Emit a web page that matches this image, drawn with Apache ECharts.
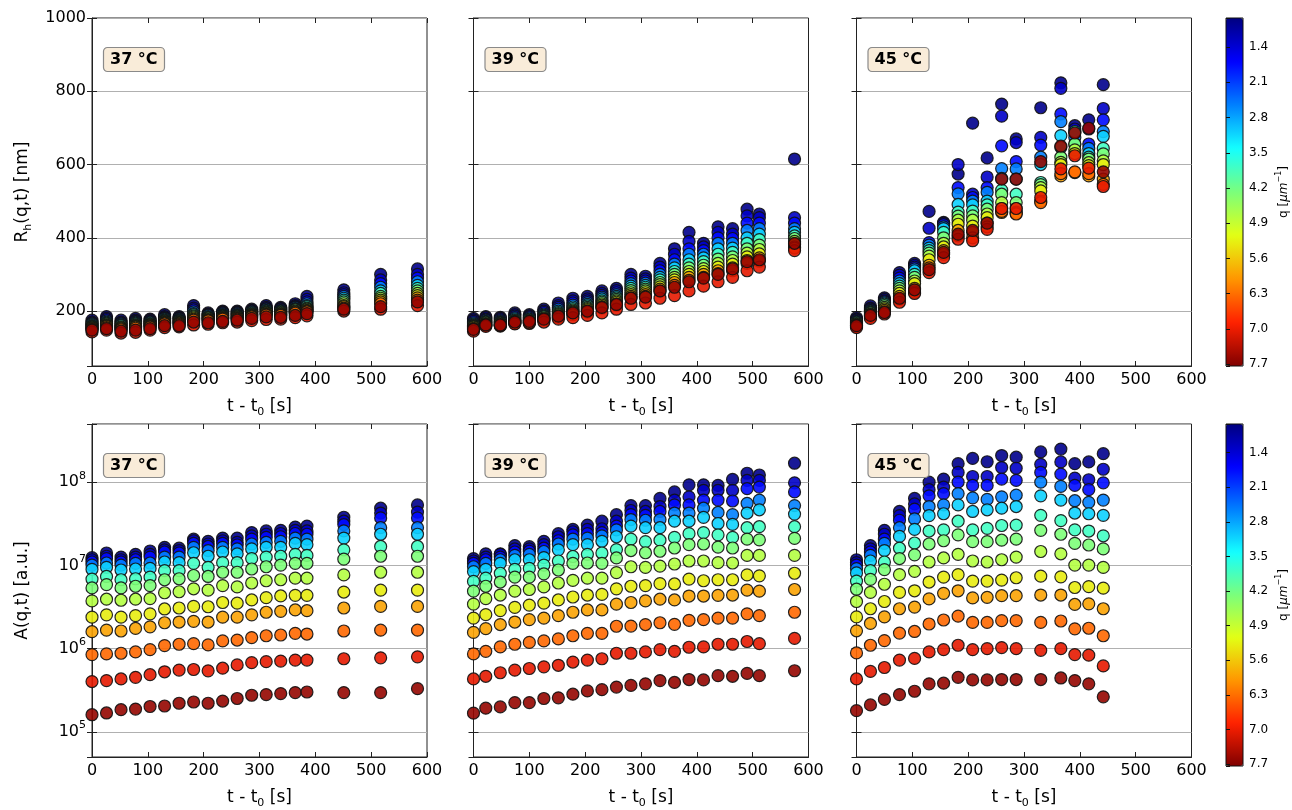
<!DOCTYPE html>
<html><head><meta charset="utf-8">
<script src="https://cdn.jsdelivr.net/npm/echarts@6/dist/echarts.min.js"></script>
<style>html,body{margin:0;padding:0;background:#fff}#c{width:1292px;height:810px}</style>
</head><body><div id="c"></div>
<script>
// ---------------- data ----------------
const qValues = [0.9, 1.3, 1.75, 2.55, 3.1, 3.8, 4.3, 4.75, 5.3, 5.9, 6.35, 7.05, 7.6];
const qTickLabels = [1.4, 2.1, 2.8, 3.5, 4.2, 4.9, 5.6, 6.3, 7.0, 7.7];
const qMin = 0.82, qMax = 7.74;
const tempLabels = ['37 °C', '39 °C', '45 °C'];
const xTicks = [0, 100, 200, 300, 400, 500, 600];

const t37 = [0,26,52,78,104,130,156,182,208,234,260,286,312,338,364,385,451,517,583];
const t39 = [0,22,48,74,100,126,152,178,204,230,256,282,308,334,360,386,412,438,464,490,512,575];
const t45 = [0,25,50,77,104,130,156,182,208,234,260,286,330,366,391,416,442];

// R_h(q,t) [nm], one row per q (q1 ... q13)
const rh37 = [
 [175,185,175,180,178,190,185,215,195,200,200,205,215,210,220,240,258,300,315],
 [170,180,170,175,175,185,182,208,192,197,197,202,210,207,215,232,250,285,300],
 [167,177,167,172,172,182,180,203,190,195,195,200,207,205,212,225,245,275,290],
 [165,173,165,170,170,180,178,198,188,193,193,198,205,202,210,220,240,265,280],
 [163,170,162,167,168,178,175,193,185,190,190,196,202,200,207,215,235,255,270],
 [160,167,160,165,166,175,173,190,183,188,188,194,200,198,205,212,230,248,262],
 [158,165,157,162,164,173,171,187,181,186,186,192,197,196,203,208,225,240,255],
 [156,162,155,160,162,171,169,184,179,184,184,190,195,194,200,205,220,235,248],
 [154,160,153,158,160,169,167,181,177,182,182,188,193,192,198,202,215,230,242],
 [152,158,151,156,158,167,165,178,175,180,180,186,191,190,196,200,212,225,236],
 [150,155,149,153,156,165,163,175,173,178,178,184,189,188,194,198,208,220,230],
 [143,148,140,142,148,155,157,162,164,168,170,174,177,178,182,187,200,205,215],
 [148,152,145,148,152,160,160,170,168,172,175,180,184,183,188,193,205,212,225]
];
const rh39 = [
 [180,185,183,195,190,205,222,235,240,255,262,300,295,330,370,415,385,430,425,478,465,615],
 [176,182,180,190,187,200,215,228,233,248,256,290,288,320,355,390,375,415,410,460,455,455],
 [172,178,177,186,184,196,210,222,228,243,250,282,282,310,340,370,365,400,398,440,440,440],
 [168,175,174,182,181,192,205,216,223,238,245,275,276,300,328,355,355,385,385,420,425,425],
 [165,172,171,179,178,189,200,211,218,233,240,268,270,292,318,340,345,370,372,400,410,415],
 [162,170,169,176,176,186,196,207,214,228,236,262,265,285,308,328,335,355,360,385,395,405],
 [160,168,167,174,174,184,193,203,210,224,232,256,260,278,300,318,325,342,348,370,380,398],
 [158,166,165,172,172,181,190,200,207,220,228,250,255,272,292,308,316,330,338,358,368,390],
 [156,164,163,170,170,179,187,197,204,216,224,245,250,266,285,300,308,320,328,348,356,382],
 [153,162,161,168,168,177,184,193,200,212,220,240,245,260,278,292,300,310,318,338,345,375],
 [151,160,159,166,166,175,182,190,197,208,216,236,240,254,270,284,292,302,310,330,336,372],
 [145,158,160,165,168,170,178,182,188,195,205,218,222,235,242,255,268,280,292,310,320,365],
 [150,162,162,170,172,178,186,195,200,210,218,235,238,255,265,280,290,300,315,335,340,385]
];
const rh45 = [
 [182,214,236,305,330,472,442,574,713,618,765,670,755,823,706,722,818],
 [178,208,232,298,325,426,440,600,519,566,732,660,674,808,697,697,753],
 [175,205,228,290,320,387,436,537,510,537,651,608,653,738,688,656,722],
 [172,202,225,282,315,380,430,520,500,524,589,588,620,717,674,644,690],
 [170,200,222,275,310,372,425,491,490,500,562,560,600,679,656,630,677],
 [168,197,219,268,300,365,415,470,473,490,530,519,551,647,690,620,644],
 [166,195,215,262,292,358,400,459,460,478,519,496,545,620,656,615,629],
 [164,192,210,255,282,350,385,448,448,465,496,480,537,606,640,605,610],
 [162,190,206,248,275,340,375,437,432,455,480,470,528,600,630,597,600],
 [160,186,202,240,262,325,365,420,415,440,469,467,500,569,578,569,560],
 [158,184,198,232,252,318,355,405,400,430,472,465,496,575,580,575,546],
 [155,180,192,224,248,305,346,396,392,423,480,480,510,588,624,590,540],
 [160,188,196,235,258,313,360,410,420,440,560,560,608,650,686,699,580]
];

// A(q,t) [a.u.], one row per q (q1 ... q13)
const a37 = [
 [1.24e7,1.41e7,1.26e7,1.36e7,1.49e7,1.65e7,1.61e7,2.07e7,1.95e7,2.13e7,2.13e7,2.48e7,2.6e7,2.64e7,2.89e7,2.97e7,3.79e7,4.87e7,5.33e7],
 [1.17e7,1.29e7,1.17e7,1.26e7,1.36e7,1.54e7,1.51e7,1.98e7,1.81e7,1.98e7,1.89e7,2.27e7,2.37e7,2.42e7,2.64e7,2.6e7,3.4e7,4.26e7,4.37e7],
 [1.1e7,1.21e7,1.1e7,1.17e7,1.26e7,1.45e7,1.41e7,1.84e7,1.69e7,1.84e7,1.76e7,2.07e7,2.17e7,2.21e7,2.42e7,2.37e7,3.1e7,3.72e7,3.72e7],
 [1.01e7,1.07e7,1.01e7,1.06e7,1.07e7,1.26e7,1.26e7,1.65e7,1.51e7,1.65e7,1.58e7,1.81e7,1.89e7,1.95e7,2.13e7,2.07e7,2.6e7,2.84e7,2.84e7],
 [8.98e6,9.48e6,8.82e6,9.06e6,9.22e6,1.1e7,1.08e7,1.42e7,1.29e7,1.45e7,1.38e7,1.58e7,1.65e7,1.65e7,1.84e7,1.78e7,2.13e7,2.37e7,2.37e7],
 [6.85e6,7.37e6,6.73e6,6.92e6,7.23e6,8.66e6,8.66e6,1.06e7,9.48e6,1.08e7,1.08e7,1.21e7,1.26e7,1.29e7,1.36e7,1.32e7,1.54e7,1.69e7,1.69e7],
 [5.37e6,5.89e6,5.37e6,5.62e6,5.73e6,6.73e6,6.92e6,7.57e6,7.37e6,8.28e6,8.28e6,9.06e6,9.64e6,1.01e7,1.06e7,1.06e7,1.19e7,1.29e7,1.29e7],
 [3.75e6,3.93e6,3.82e6,3.93e6,4.0e6,4.7e6,4.83e6,5.24e6,5.05e6,5.73e6,5.52e6,6.15e6,6.55e6,6.73e6,7.05e6,7.05e6,7.7e6,8.28e6,8.28e6],
 [2.39e6,2.55e6,2.39e6,2.5e6,2.62e6,3.0e6,3.08e6,3.22e6,3.19e6,3.59e6,3.52e6,3.85e6,4.1e6,4.3e6,4.37e6,4.37e6,4.79e6,5.05e6,5.05e6],
 [1.6e6,1.67e6,1.63e6,1.75e6,1.83e6,2.05e6,2.09e6,2.13e6,2.09e6,2.39e6,2.39e6,2.55e6,2.74e6,2.81e6,2.92e6,2.86e6,3.08e6,3.22e6,3.22e6],
 [8.5e5,8.66e5,8.82e5,9.14e5,9.73e5,1.09e6,1.13e6,1.15e6,1.11e6,1.24e6,1.27e6,1.36e6,1.43e6,1.46e6,1.53e6,1.5e6,1.63e6,1.67e6,1.67e6],
 [4.03e5,4.14e5,4.33e5,4.53e5,4.87e5,5.28e5,5.53e5,5.62e5,5.42e5,5.83e5,6.38e5,6.8e5,6.98e5,7.1e5,7.3e5,7.3e5,7.57e5,7.77e5,7.98e5],
 [1.61e5,1.69e5,1.85e5,1.88e5,2.02e5,2.05e5,2.21e5,2.29e5,2.21e5,2.35e5,2.52e5,2.76e5,2.81e5,2.89e5,2.97e5,3.02e5,2.97e5,2.97e5,3.31e5]
];
const a39 = [
 [1.21e7,1.38e7,1.38e7,1.73e7,1.68e7,1.95e7,2.41e7,2.71e7,3.05e7,3.4e7,4.07e7,5.23e7,5.23e7,6.38e7,7.64e7,9.3e7,9.3e7,9.14e7,1.08e8,1.28e8,1.22e8,1.69e8],
 [1.13e7,1.26e7,1.36e7,1.58e7,1.58e7,1.78e7,2.21e7,2.54e7,2.71e7,2.76e7,3.4e7,4.57e7,4.45e7,5.1e7,6.1e7,6.67e7,7.99e7,7.99e7,7.99e7,1.05e8,1.05e8,9.82e7],
 [1.06e7,1.17e7,1.26e7,1.45e7,1.48e7,1.61e7,1.98e7,2.33e7,2.41e7,2.48e7,2.97e7,4.07e7,4.0e7,4.45e7,5.33e7,5.33e7,6.1e7,6.1e7,5.94e7,8.36e7,8.74e7,7.64e7],
 [9.65e6,1.06e7,1.17e7,1.32e7,1.36e7,1.47e7,1.81e7,2.07e7,2.13e7,2.27e7,2.67e7,3.56e7,3.49e7,3.56e7,4.26e7,4.26e7,4.87e7,4.33e7,4.07e7,5.57e7,6.1e7,5.23e7],
 [8.43e6,8.98e6,1.06e7,1.17e7,1.17e7,1.24e7,1.54e7,1.78e7,1.78e7,1.95e7,2.21e7,2.97e7,2.84e7,2.84e7,3.4e7,3.4e7,3.78e7,3.19e7,3.11e7,4.26e7,4.66e7,4.14e7],
 [6.43e6,7.04e6,8.06e6,8.98e6,9.22e6,1.01e7,1.13e7,1.28e7,1.36e7,1.41e7,1.55e7,2.07e7,1.93e7,2.01e7,2.17e7,2.41e7,2.48e7,2.33e7,2.17e7,2.84e7,2.92e7,2.92e7],
 [4.91e6,5.62e6,6.32e6,7.23e6,7.23e6,7.92e6,8.82e6,1.06e7,1.07e7,1.06e7,1.23e7,1.51e7,1.42e7,1.48e7,1.62e7,1.78e7,1.81e7,1.66e7,1.62e7,2.07e7,2.03e7,2.11e7],
 [3.43e6,4.0e6,4.41e6,4.91e6,5.14e6,5.52e6,6.15e6,6.61e6,7.04e6,7.04e6,8.21e6,9.65e6,9.47e6,9.82e6,1.04e7,1.13e7,1.13e7,1.08e7,1.07e7,1.32e7,1.32e7,1.32e7],
 [2.33e6,2.57e6,2.87e6,3.13e6,3.34e6,3.52e6,3.85e6,4.18e6,4.41e6,4.49e6,5.23e6,5.62e6,5.73e6,6.05e6,5.99e6,6.85e6,6.55e6,6.73e6,6.73e6,7.7e6,7.5e6,8.06e6],
 [1.57e6,1.74e6,1.95e6,2.09e6,2.23e6,2.33e6,2.5e6,2.74e6,2.92e6,2.92e6,3.43e6,3.59e6,3.75e6,3.93e6,3.85e6,4.29e6,4.29e6,4.37e6,4.41e6,5.05e6,4.91e6,5.14e6],
 [8.66e5,9.3e5,1.05e6,1.13e6,1.19e6,1.24e6,1.31e6,1.43e6,1.53e6,1.53e6,1.86e6,1.87e6,1.95e6,2.05e6,1.96e6,2.19e6,2.23e6,2.33e6,2.33e6,2.62e6,2.5e6,2.74e6],
 [4.33e5,4.66e5,5.14e5,5.52e5,5.78e5,6.05e5,6.32e5,6.91e5,7.3e5,7.57e5,8.82e5,8.82e5,9.14e5,9.73e5,9.3e5,1.04e6,1.05e6,1.13e6,1.13e6,1.22e6,1.15e6,1.33e6],
 [1.68e5,1.93e5,2.0e5,2.25e5,2.25e5,2.52e5,2.57e5,2.84e5,3.11e5,3.22e5,3.46e5,3.62e5,3.78e5,4.14e5,3.93e5,4.26e5,4.22e5,4.74e5,4.66e5,5.05e5,4.74e5,5.43e5]
];
const a45 = [
 [1.17e7,1.73e7,2.64e7,4.45e7,6.38e7,1.0e8,1.09e8,1.67e8,1.93e8,1.76e8,2.09e8,2.0e8,2.31e8,2.5e8,1.67e8,1.75e8,2.2e8],
 [1.08e7,1.58e7,2.37e7,3.96e7,5.48e7,8.13e7,8.74e7,1.31e8,1.17e8,1.17e8,1.5e8,1.47e8,1.64e8,1.75e8,1.12e8,1.07e8,1.43e8],
 [1.01e7,1.45e7,2.07e7,3.49e7,4.74e7,6.85e7,7.3e7,1.0e8,9.14e7,9.14e7,1.09e8,1.05e8,1.31e8,1.25e8,9.14e7,8.13e7,9.82e7],
 [9.14e6,1.32e7,1.84e7,2.84e7,3.62e7,5.1e7,5.33e7,7.3e7,6.49e7,6.21e7,6.67e7,6.98e7,1.0e8,8.9e7,5.99e7,5.73e7,6.1e7],
 [8.13e6,1.13e7,1.51e7,2.23e7,2.71e7,3.96e7,4.18e7,5.33e7,4.45e7,4.66e7,4.87e7,5.1e7,6.85e7,6.1e7,4.26e7,4.18e7,4.0e7],
 [6.49e6,8.66e6,1.1e7,1.61e7,1.86e7,2.59e7,2.67e7,3.4e7,2.67e7,2.79e7,3.02e7,3.05e7,4.0e7,3.46e7,2.67e7,2.59e7,2.27e7],
 [5.18e6,6.79e6,8.9e6,1.21e7,1.34e7,1.81e7,1.98e7,2.33e7,1.93e7,1.93e7,2.01e7,2.07e7,2.64e7,2.37e7,1.84e7,1.76e7,1.58e7],
 [3.69e6,4.74e6,5.94e6,7.77e6,8.5e6,1.1e7,1.23e7,1.36e7,1.13e7,1.1e7,1.17e7,1.26e7,1.47e7,1.38e7,1.01e7,1.01e7,9.47e6],
 [2.41e6,3.02e6,3.69e6,4.74e6,4.96e6,6.32e6,7.23e6,7.77e6,6.49e6,6.49e6,6.67e6,7.11e6,7.43e6,7.3e6,5.43e6,5.57e6,5.33e6],
 [1.64e6,2.01e6,2.41e6,3.02e6,3.16e6,3.96e6,4.62e6,4.96e6,4.07e6,4.14e6,4.33e6,4.33e6,4.41e6,4.41e6,3.4e6,3.46e6,3.02e6],
 [8.9e5,1.1e6,1.25e6,1.54e6,1.61e6,1.98e6,2.21e6,2.46e6,2.07e6,2.07e6,2.17e6,2.17e6,2.07e6,2.15e6,1.73e6,1.76e6,1.43e6],
 [4.33e5,5.33e5,5.94e5,7.3e5,7.64e5,9.14e5,9.73e5,1.1e6,9.73e5,1.0e6,1.03e6,1.0e6,9.56e5,1.0e6,8.5e5,8.36e5,6.21e5],
 [1.8e5,2.11e5,2.46e5,2.81e5,3.08e5,3.78e5,3.85e5,4.53e5,4.22e5,4.22e5,4.26e5,4.26e5,4.26e5,4.45e5,4.14e5,3.78e5,2.64e5]
];

// ---------------- chart ----------------
const FONT = 'DejaVu Sans';
const jet = ['#000080','#0000ff','#0080ff','#14ffff','#7bff7b','#e3ff14','#ff9600','#ff2100','#800000'];
const gridLeft = [92, 473.5, 856.5];
const W = 335;
const rowsGeom = [{top:18, height:348}, {top:424, height:341}];
const panels = [
  {row:0, col:0, t:t37, vals:rh37}, {row:0, col:1, t:t39, vals:rh39}, {row:0, col:2, t:t45, vals:rh45},
  {row:1, col:0, t:t37, vals:a37}, {row:1, col:1, t:t39, vals:a39}, {row:1, col:2, t:t45, vals:a45}
];
const grids = [], xAxes = [], yAxes = [], series = [], titles = [];
const topIdx = [], botIdx = [];
const txt = '#000';
const richX = {
  n: {fontFamily: FONT, fontSize: 17, color: txt, lineHeight: 22},
  s: {fontFamily: FONT, fontSize: 11, color: txt, lineHeight: 12, verticalAlign: 'bottom'}
};
panels.forEach((p, g) => {
  const geo = rowsGeom[p.row];
  grids.push({left: gridLeft[p.col], top: geo.top, width: W, height: geo.height,
    show: true, borderColor: '#222', borderWidth: 1, backgroundColor: 'transparent'});
  xAxes.push({gridIndex: g, type: 'value', min: 0, max: 600, interval: 100, position: 'bottom',
    name: '{n|t - t}{s|0}{n| [s]}', nameLocation: 'middle', nameGap: 30,
    nameTextStyle: {rich: richX},
    axisLine: {show: true, lineStyle: {color: '#222', width: 1}},
    axisTick: {show: true, inside: true, length: 5, lineStyle: {color: '#222'}},
    axisLabel: {fontFamily: FONT, fontSize: 16, color: txt, margin: 6,
      formatter: v => xTicks.includes(v) ? String(v) : ''},
    splitLine: {show: false}});
  xAxes.push({gridIndex: g, type: 'value', min: 0, max: 600, interval: 100, position: 'top',
    axisLine: {show: false}, axisTick: {show: true, inside: true, length: 5, lineStyle: {color: '#222'}},
    axisLabel: {show: false}, splitLine: {show: false}});
  const isLog = p.row === 1;
  const yBase = isLog ? {type: 'log', logBase: 10, min: 5e4, max: 5e8} : {type: 'value', min: 50, max: 1000};
  const yName = p.col !== 0 ? '' : (isLog ? '{n|A(q,t) [a.u.]}' : '{n|R}{s|h}{n|(q,t) [nm]}');
  yAxes.push(Object.assign({gridIndex: g, position: 'left',
    name: yName, nameLocation: 'middle', nameGap: 58,
    nameTextStyle: {rich: richX},
    axisLine: {show: true, lineStyle: {color: '#222', width: 1}},
    axisTick: {show: true, inside: true, length: 5, lineStyle: {color: '#222'}},
    axisLabel: {show: p.col === 0, fontFamily: FONT, fontSize: 16, color: txt, margin: 6,
      formatter: isLog ? (v => {
        const e = Math.log10(v);
        return Math.abs(e - Math.round(e)) < 1e-6 ? '{b|10}{s|' + Math.round(e) + '}' : '';
      }) : (v => (v % 200 === 0 ? String(v) : '')),
      rich: {b: {fontFamily: FONT, fontSize: 16, color: txt, lineHeight: 24},
             s: {fontFamily: FONT, fontSize: 11, color: txt, lineHeight: 12, verticalAlign: 'top'}}},
    splitLine: {show: true, lineStyle: {color: '#b0b0b0', width: 1.2}}}, yBase));
  yAxes.push(Object.assign({gridIndex: g, position: 'right',
    axisLine: {show: false}, axisTick: {show: true, inside: true, length: 5, lineStyle: {color: '#222'}},
    axisLabel: {show: false}, splitLine: {show: false}}, yBase));
  p.vals.forEach((row, qi) => {
    (p.row === 0 ? topIdx : botIdx).push(series.length);
    series.push({type: 'scatter', xAxisIndex: 2 * g, yAxisIndex: 2 * g,
      symbol: 'circle', symbolSize: 12,
      itemStyle: {borderColor: '#111', borderWidth: 1.2, opacity: 0.9},
      data: p.t.map((t, j) => [t, row[j], qValues[qi]])});
  });
  titles.push({text: tempLabels[p.col], left: gridLeft[p.col] + 11, top: geo.top + 29,
    padding: [5, 7, 4, 7], backgroundColor: '#f9ecd9', borderColor: '#8a8a8a', borderWidth: 1.2, borderRadius: 4,
    textStyle: {fontFamily: FONT, fontSize: 16, fontWeight: 'bold', color: '#000'}});
});

// colorbars
const cbGeo = [{top: 18, height: 348}, {top: 424, height: 342}];
cbGeo.forEach((c, k) => {
  const g = 6 + k;
  grids.push({left: 1226, top: c.top, width: 17, height: c.height, show: true,
    borderColor: '#111', borderWidth: 1, backgroundColor: 'transparent', z: 6});
  xAxes.push({gridIndex: g, type: 'value', min: 0, max: 1, show: false});
  yAxes.push({gridIndex: g, type: 'value', inverse: true, min: qMin / 0.7, max: qMax / 0.7, splitNumber: 10,
    position: 'right', z: 6,
    name: '{n|q [}{i|μm}{s|−1}{n|]}', nameLocation: 'middle', nameGap: 32,
    nameTextStyle: {rich: {
      n: {fontFamily: FONT, fontSize: 12, color: txt, lineHeight: 18},
      i: {fontFamily: FONT, fontSize: 12, color: txt, lineHeight: 18, fontStyle: 'italic'},
      s: {fontFamily: FONT, fontSize: 8, color: txt, lineHeight: 10, verticalAlign: 'top'}}},
    axisLine: {show: false},
    axisTick: {show: true, inside: false, length: 4, lineStyle: {color: '#111'}},
    axisLabel: {fontFamily: FONT, fontSize: 12, color: txt, margin: 6,
      formatter: u => { const q = u * 0.7; const l = qTickLabels.find(v => Math.abs(v - q) < 1e-3); return l === undefined ? '' : l.toFixed(1); }},
    splitLine: {show: false}});
  series.push({type: 'scatter', xAxisIndex: 12 + k, yAxisIndex: 12 + k, data: []});
});

const chart = echarts.init(document.getElementById('c'));
chart.setOption({
  animation: false,
  backgroundColor: '#fff',
  title: titles,
  grid: grids,
  xAxis: xAxes,
  yAxis: yAxes,
  visualMap: [
    {type: 'continuous', min: qMin, max: qMax, dimension: 2, seriesIndex: topIdx, inverse: true,
     calculable: false, orient: 'vertical', left: 1226, top: 18, itemWidth: 17, itemHeight: 348,
     padding: 0, text: null, hoverLink: false, inRange: {color: jet}},
    {type: 'continuous', min: qMin, max: qMax, dimension: 2, seriesIndex: botIdx, inverse: true,
     calculable: false, orient: 'vertical', left: 1226, top: 424, itemWidth: 17, itemHeight: 342,
     padding: 0, text: null, hoverLink: false, inRange: {color: jet}}
  ],
  series: series
});
</script></body></html>
